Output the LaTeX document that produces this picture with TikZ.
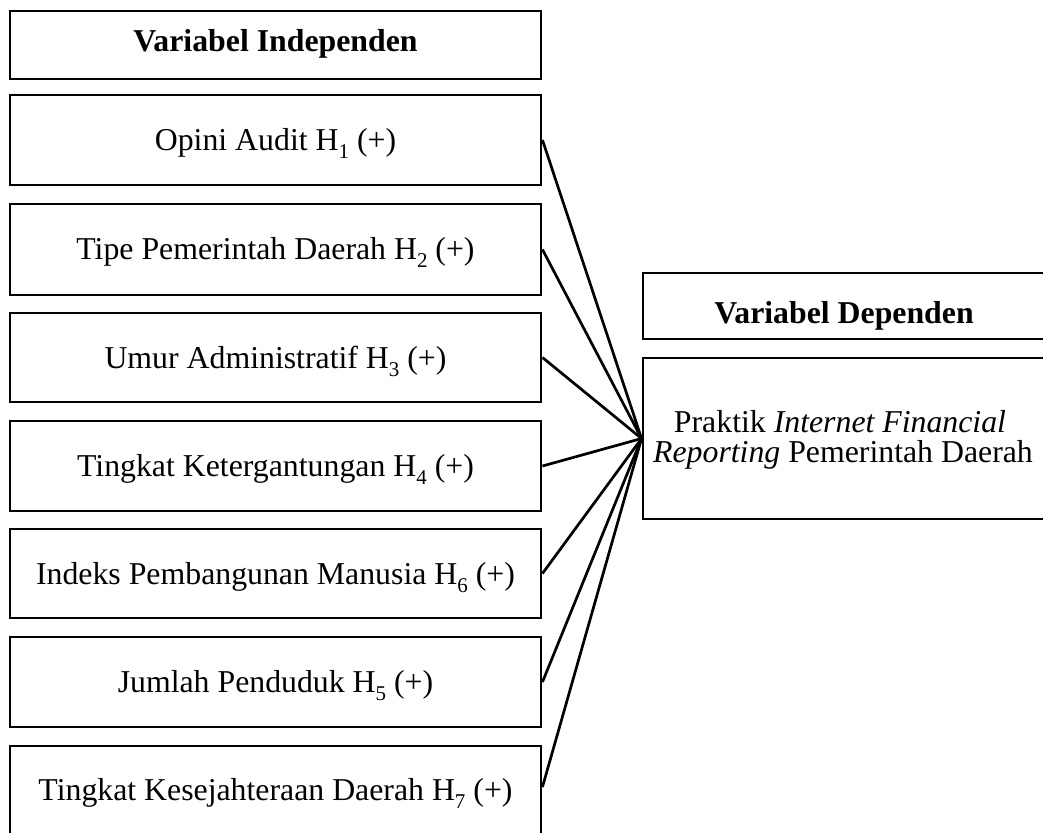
\documentclass[tikz,border=0pt]{standalone}
\usepackage{fontspec}
\setmainfont{Liberation Serif}
\newcommand{\hsub}[1]{\raisebox{-0.28em}{\fontsize{21}{21}\selectfont #1}}
\begin{document}
\begin{tikzpicture}[x=1pt,y=-1pt,
  box/.style={draw, line width=2.9pt, rectangle, inner sep=0pt},
  lbox/.style={box, minimum width=531pt, minimum height=90pt},
  txt/.style={anchor=base, inner sep=0pt, font=\fontsize{31.8}{30}\selectfont},
  link/.style={line width=2.7pt}]
\useasboundingbox (0,0) rectangle (1043,832);
% left column
\node[box, minimum width=531pt, minimum height=68pt] (ti) at (275.5,45) {};
\node[txt] (tit) at (275.5,52) {\bfseries Variabel Independen};
\node[lbox] (b1) at (275.5,140) {};
\node[txt] (t1) at (275.5,150) {Opini Audit H\hsub{1} (+)};
\node[lbox, minimum height=91pt] (b2) at (275.5,249.5) {};
\node[txt] (t2) at (275.5,259) {Tipe Pemerintah Daerah H\hsub{2} (+)};
\node[lbox, minimum height=89pt] (b3) at (275.5,357.5) {};
\node[txt] (t3) at (275.5,368) {Umur Administratif H\hsub{3} (+)};
\node[lbox] (b4) at (275.5,466) {};
\node[txt] (t4) at (275.5,476) {Tingkat Ketergantungan H\hsub{4} (+)};
\node[lbox, minimum height=89pt] (b5) at (275.5,573.5) {};
\node[txt] (t5) at (275.5,584) {Indeks Pembangunan Manusia H\hsub{6} (+)};
\node[lbox] (b6) at (275.5,682) {};
\node[txt] (t6) at (275.5,692) {Jumlah Penduduk H\hsub{5} (+)};
\node[lbox] (b7) at (275.5,791) {};
\node[txt] (t7) at (275.5,800) {Tingkat Kesejahteraan Daerah H\hsub{7} (+)};
% right column
\node[box, minimum width=403pt, minimum height=66pt] (dt) at (844.5,306) {};
\node[txt] (dtt) at (844,323) {\bfseries Variabel Dependen};
\node[box, minimum width=403pt, minimum height=161pt] (dv) at (844.5,438.5) {};
\node[txt] (m1) at (840,432) {Praktik \textit{Internet Financial}};
\node[txt] (m2) at (843,462) {\textit{Reporting} Pemerintah Daerah};
% connectors
\foreach \b in {b1,b2,b3,b4,b5,b6}{\draw[link] (\b.east) -- (dv.west);}
\draw[link] ([yshift=4pt]b7.east) -- (dv.west);
\end{tikzpicture}
\end{document}
